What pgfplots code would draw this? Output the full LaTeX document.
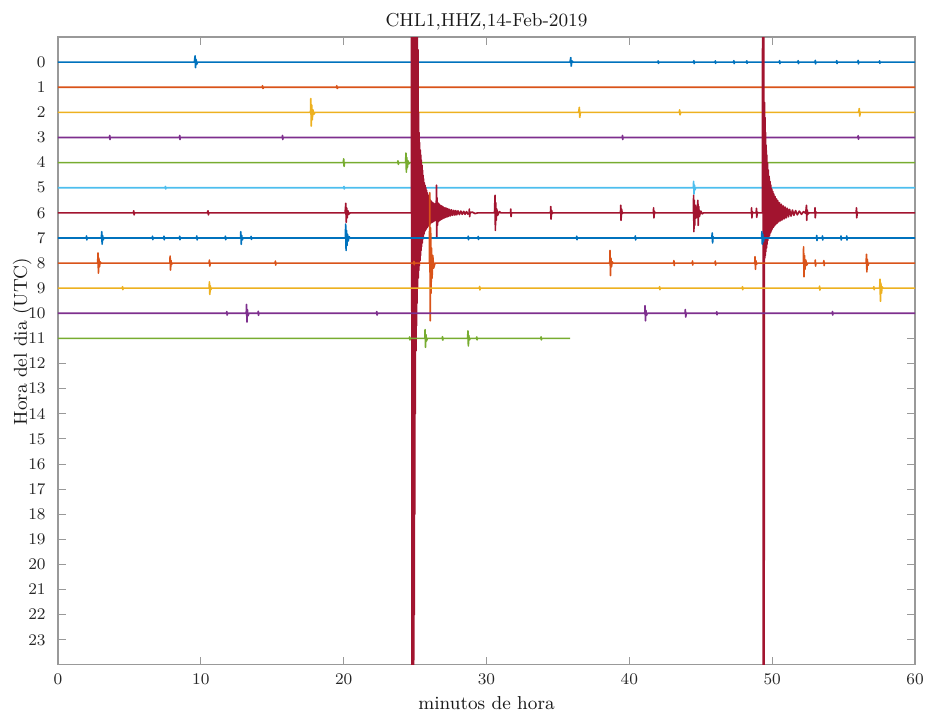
\documentclass[border=0pt]{standalone}
\usepackage{pgfplots}
\pgfplotsset{compat=1.18}
\usetikzlibrary{calc}
\definecolor{m1}{rgb}{0,0.447,0.741}
\definecolor{m2}{rgb}{0.85,0.325,0.098}
\definecolor{m3}{rgb}{0.929,0.694,0.125}
\definecolor{m4}{rgb}{0.494,0.184,0.556}
\definecolor{m5}{rgb}{0.466,0.674,0.188}
\definecolor{m6}{rgb}{0.301,0.745,0.933}
\definecolor{m7}{rgb}{0.635,0.078,0.184}
\begin{document}
\begin{tikzpicture}
\begin{axis}[
    width=14.824cm, height=10.862cm, scale only axis,
    xmin=0, xmax=60, ymin=-1, ymax=24, y dir=reverse,
    xtick={0,10,...,60}, ytick={0,1,...,23},
    tick align=inside, major tick length=0.138cm,
    axis line style={draw=black!40, line width=0.5pt},
    every tick/.style={draw=black!40, line width=0.5pt},
    tick label style={font=\fontsize{8.4}{10}\selectfont, text=black!85},
    yticklabel style={xshift=-0.09cm},
    xticklabel style={yshift=-0.04cm},
    title={CHL1,HHZ,14-Feb-2019},
    every axis title shift=0pt,
    title style={at={(axis description cs:0.5,1.0167)}, anchor=base, font=\fontsize{9.2}{11}\selectfont, text=black!90},
    xlabel={minutos de hora},
    xlabel style={at={(axis description cs:0.5,-0.071)}, anchor=base, font=\fontsize{9.2}{11}\selectfont, text=black!90},
    ylabel={Hora del dia (UTC)},
    ylabel style={at={(axis description cs:-0.0362,0.515)}, anchor=base, rotate=0, font=\fontsize{9.2}{11}\selectfont, text=black!90},
    every axis plot/.append style={line width=0.8pt, line join=round},
]
\coordinate (sw) at (axis description cs:0,0);
\coordinate (ne) at (axis description cs:1,1);
% hour 0
\addplot[m1] coordinates {
  (0,0)(9.55,0)(9.6,-0.25)(9.63,0.22)(9.67,-0.1)(9.72,0.08)(9.78,0)
  (35.85,0)(35.9,-0.18)(35.93,0.16)(35.98,-0.05)(36.05,0)
  (42,0)(42.02,-0.05)(42.04,0.05)(42.06,0)(44.5,0)(44.52,-0.06)(44.54,0.06)(44.56,0)
  (46,0)(46.02,-0.05)(46.04,0.05)(46.06,0)(47.3,0)(47.32,-0.06)(47.34,0.06)(47.36,0)
  (48.2,0)(48.22,-0.05)(48.24,0.05)(48.26,0)(50.5,0)(50.52,-0.06)(50.54,0.06)(50.56,0)
  (51.8,0)(51.82,-0.06)(51.84,0.06)(51.86,0)(53,0)(53.02,-0.07)(53.04,0.07)(53.06,0)
  (54.5,0)(54.52,-0.06)(54.54,0.06)(54.56,0)(56,0)(56.02,-0.07)(56.04,0.07)(56.06,0)
  (57.5,0)(57.52,-0.05)(57.54,0.05)(57.56,0)(60,0)
};
% hour 1
\addplot[m2] coordinates {
  (0,1)(14.3,1)(14.32,0.94)(14.35,1.05)(14.4,1)(19.5,1)(19.52,0.94)(19.55,1.05)(19.6,1)(60,1)
};
% hour 2
\addplot[m3] coordinates {
  (0,2)(17.68,2)(17.7,1.45)(17.73,2.55)(17.76,1.7)(17.8,2.3)(17.85,1.9)(17.9,2.08)(18.0,2)
  (36.45,2)(36.5,1.8)(36.53,2.2)(36.57,2)(43.5,2)(43.52,1.9)(43.55,2.1)(43.6,2)
  (56.05,2)(56.1,1.85)(56.13,2.15)(56.17,2)(60,2)
};
% hour 3
\addplot[m4] coordinates {
  (0,3)(3.6,3)(3.62,2.92)(3.64,3.08)(3.66,3)(8.5,3)(8.52,2.92)(8.54,3.08)(8.56,3)
  (15.7,3)(15.72,2.92)(15.74,3.08)(15.76,3)(39.5,3)(39.52,2.92)(39.54,3.08)(39.56,3)
  (56,3)(56.02,2.93)(56.04,3.07)(56.06,3)(60,3)
};
% hour 4
\addplot[m5] coordinates {
  (0,4)(19.98,4)(20.0,3.85)(20.03,4.15)(20.06,4)(23.78,4)(23.8,3.93)(23.83,4.07)(23.86,4)
  (24.34,4)(24.36,3.62)(24.39,4.38)(24.42,3.8)(24.46,4.2)(24.5,3.93)(24.56,4.05)(24.62,4)
  (25.1,4)(25.12,3.94)(25.14,4.06)(25.17,4)(60,4)
};
% hour 5
\addplot[m6] coordinates {
  (0,5)(7.5,5)(7.52,4.95)(7.54,5.05)(7.56,5)(20,5)(20.02,4.95)(20.04,5.05)(20.06,5)
  (44.48,5)(44.5,4.75)(44.53,5.25)(44.56,4.9)(44.6,5.08)(44.65,5)(60,5)
};
% hour 6
\addplot[m7] coordinates {
  (0,6)(5.28,6)(5.3,5.92)(5.33,6.08)(5.36,6)(10.45,6)(10.5,5.92)(10.53,6.08)(10.56,6)
  (20.1,6)(20.15,5.62)(20.18,6.38)(20.21,5.8)(20.25,6.2)(20.3,5.92)(20.36,6.05)(20.45,6)
  (24.74,6)
  (24.76,-34)(24.78,46)(24.80,-34)(24.82,46)(24.84,-34)(24.86,46)(24.88,-30)(24.90,30)(24.92,-26)(24.94,22)
  (24.96,-10)(24.98,18)(25.00,-7)(25.02,14)(25.04,-5)(25.06,11.5)(25.08,-3)(25.10,10.5)(25.12,-2)(25.14,9.6)
  (25.16,-1.5)(25.18,9)(25.20,-0.5)(25.22,8.6)(25.24,2)(25.26,8.3)(25.28,2.8)(25.30,8.1)(25.32,3.2)(25.34,7.9)
  (25.36,3.5)(25.38,7.7)(25.40,3.7)(25.42,7.5)(25.44,3.9)(25.46,7.35)(25.48,4.1)(25.50,7.2)(25.52,4.3)(25.54,7.05)
  (25.56,4.5)(25.58,6.95)(25.60,4.65)(25.62,6.85)(25.65,4.8)(25.67,6.75)(25.70,4.9)(25.72,6.7)(25.75,5.0)(25.77,6.65)
  (25.80,5.1)(25.83,6.6)(25.86,5.2)(25.89,6.55)(25.92,5.3)(25.96,6.5)(26.00,5.4)(26.04,6.45)(26.08,5.5)(26.12,6.4)
  (26.16,5.55)(26.20,6.38)(26.24,5.6)(26.28,6.35)(26.32,5.62)(26.36,6.32)(26.40,5.65)(26.44,6.3)(26.48,5.8)
  (26.50,4.9)(26.52,7.0)(26.54,5.4)(26.57,6.5)(26.60,5.6)(26.64,6.35)(26.68,5.65)(26.72,6.3)(26.76,5.7)(26.80,6.28)
  (26.84,5.72)(26.88,6.25)(26.92,5.75)(26.96,6.22)(27.00,5.78)(27.05,6.2)(27.10,5.8)(27.15,6.18)(27.20,5.82)(27.25,6.16)
  (27.30,5.84)(27.35,6.14)(27.40,5.86)(27.47,6.12)(27.55,5.88)(27.62,6.1)(27.70,5.9)(27.78,6.09)(27.85,5.91)(27.92,6.08)
  (28.0,5.92)(28.1,6.07)(28.2,5.93)(28.3,6.06)(28.4,5.94)(28.5,6.06)(28.6,5.95)(28.7,6.05)(28.78,6)(28.8,5.85)(28.82,6.15)
  (28.85,6)(29.0,5.97)(29.2,6.03)(29.4,6)
  (30.56,6)(30.6,5.3)(30.62,6.7)(30.65,5.6)(30.68,6.3)(30.72,5.85)(30.78,6.1)(30.9,5.95)(31.0,6)
  (31.68,6)(31.7,5.85)(31.72,6.15)(31.75,6)
  (34.48,6)(34.5,5.75)(34.52,6.25)(34.56,5.9)(34.6,6.03)(34.65,6)
  (39.38,6)(39.4,5.7)(39.42,6.3)(39.46,5.85)(39.5,6.03)(39.55,6)
  (41.68,6)(41.7,5.8)(41.72,6.2)(41.76,5.95)(41.8,6)
  (44.48,6)(44.5,5.3)(44.52,6.75)(44.55,5.5)(44.58,6.5)(44.62,5.7)(44.7,6.2)
  (44.8,5.5)(44.82,6.5)(44.86,5.75)(44.9,6.15)(45.0,5.93)(45.1,6.04)(45.2,6)
  (48.54,6)(48.56,5.8)(48.58,6.2)(48.62,5.96)(48.66,6)(48.88,6)(48.9,5.82)(48.92,6.18)(48.96,5.97)(49.0,6)(49.32,6)
  (49.36,-30)(49.38,40)(49.40,-30)(49.42,40)
  (49.46,1.6)(49.48,7.8)(49.50,2.2)(49.52,7.7)(49.54,2.8)(49.56,7.55)(49.58,3.3)(49.60,7.4)(49.62,3.7)(49.64,7.25)
  (49.67,4.0)(49.70,7.1)(49.73,4.3)(49.76,7.0)(49.79,4.55)(49.82,6.9)(49.85,4.75)(49.88,6.8)(49.91,4.9)(49.94,6.72)
  (49.97,5.05)(50.00,6.65)(50.04,5.15)(50.08,6.58)(50.12,5.25)(50.16,6.52)(50.20,5.35)(50.25,6.46)(50.30,5.45)(50.35,6.41)
  (50.40,5.52)(50.46,6.36)(50.52,5.6)(50.58,6.32)(50.64,5.66)(50.70,6.28)(50.77,5.72)(50.84,6.24)(50.91,5.77)(50.98,6.2)
  (51.06,5.82)(51.14,6.16)(51.22,5.86)(51.32,6.13)(51.42,5.89)(51.52,6.1)(51.64,5.91)(51.76,6.08)(51.9,5.93)(52.05,6.06)
  (52.2,5.95)(52.35,6.02)(52.4,5.7)(52.42,6.3)(52.45,5.88)(52.5,6.05)(52.6,6)(52.98,6)(53.0,5.8)(53.02,6.2)(53.05,5.96)
  (53.1,6)(55.88,6)(55.9,5.8)(55.92,6.2)(55.96,5.97)(56.0,6)(60,6)
};
% hour 7
\addplot[m1] coordinates {
  (0,7)(1.98,7)(2.0,6.92)(2.02,7.08)(2.04,7)(3.04,7)(3.06,6.75)(3.09,7.25)(3.12,6.9)(3.16,7.08)(3.22,7)
  (6.6,7)(6.62,6.93)(6.64,7.07)(6.66,7)(7.4,7)(7.42,6.93)(7.44,7.07)(7.46,7)(8.5,7)(8.52,6.93)(8.54,7.07)(8.56,7)
  (9.7,7)(9.72,6.92)(9.74,7.08)(9.76,7)(11.7,7)(11.72,6.93)(11.74,7.07)(11.76,7)
  (12.78,7)(12.8,6.75)(12.83,7.25)(12.86,6.9)(12.9,7.08)(12.96,7)(13.5,7)(13.52,6.94)(13.54,7.06)(13.56,7)
  (20.12,7)(20.14,6.45)(20.17,7.5)(20.2,6.7)(20.23,7.3)(20.27,6.85)(20.32,7.12)(20.38,6.95)(20.45,7)
  (28.7,7)(28.72,6.93)(28.74,7.07)(28.76,7)(29.4,7)(29.42,6.94)(29.44,7.06)(29.46,7)
  (36.3,7)(36.32,6.93)(36.34,7.07)(36.36,7)(40.4,7)(40.42,6.92)(40.44,7.08)(40.46,7)
  (45.78,7)(45.8,6.8)(45.83,7.2)(45.86,6.95)(45.9,7)(49.26,7)(49.28,6.75)(49.31,7.25)(49.34,6.85)(49.38,7.15)(49.44,7)
  (53.1,7)(53.12,6.9)(53.14,7.1)(53.16,7)(53.5,7)(53.52,6.92)(53.54,7.08)(53.56,7)
  (54.8,7)(54.82,6.92)(54.84,7.08)(54.86,7)(55.2,7)(55.22,6.92)(55.24,7.08)(55.26,7)(60,7)
};
% hour 8
\addplot[m2] coordinates {
  (0,8)(2.78,8)(2.8,7.6)(2.83,8.4)(2.86,7.8)(2.9,8.15)(2.95,7.95)(3.0,8)
  (7.83,8)(7.85,7.72)(7.88,8.28)(7.91,7.9)(7.95,8.06)(8.0,8)(10.58,8)(10.6,7.88)(10.63,8.12)(10.66,8)
  (15.2,8)(15.22,7.92)(15.24,8.08)(15.26,8)(24.9,8)(24.92,7.93)(24.94,8.07)(24.96,8)
  (26.0,8)(26.03,5.2)(26.06,10.3)(26.09,6.6)(26.12,9.2)(26.15,7.4)(26.19,8.6)(26.24,7.7)(26.3,8.2)(26.4,8)
  (38.63,8)(38.65,7.5)(38.68,8.5)(38.71,7.8)(38.75,8.15)(38.8,7.95)(38.86,8)
  (43.1,8)(43.12,7.9)(43.14,8.1)(43.16,8)(44.4,8)(44.42,7.92)(44.44,8.08)(44.46,8)(46,8)(46.02,7.92)(46.04,8.08)(46.06,8)
  (48.78,8)(48.8,7.75)(48.83,8.25)(48.86,7.9)(48.9,8.05)(48.95,8)
  (52.18,8)(52.2,7.35)(52.23,8.55)(52.26,7.7)(52.3,8.25)(52.35,7.88)(52.42,8.08)(52.5,8)
  (53.0,8)(53.02,7.88)(53.04,8.12)(53.06,8)(53.6,8)(53.62,7.9)(53.64,8.1)(53.66,8)
  (56.58,8)(56.6,7.65)(56.63,8.35)(56.66,7.85)(56.7,8.1)(56.76,8)(60,8)
};
% hour 9
\addplot[m3] coordinates {
  (0,9)(4.5,9)(4.52,8.94)(4.54,9.06)(4.56,9)(10.58,9)(10.6,8.75)(10.63,9.25)(10.66,8.9)(10.7,9.06)(10.75,9)
  (29.5,9)(29.52,8.93)(29.54,9.07)(29.56,9)(42.1,9)(42.12,8.94)(42.14,9.06)(42.16,9)
  (47.9,9)(47.92,8.94)(47.94,9.06)(47.96,9)(53.3,9)(53.32,8.92)(53.34,9.08)(53.36,9)
  (57.1,9)(57.12,8.94)(57.14,9.06)(57.16,9)(57.53,9)(57.55,8.64)(57.58,9.52)(57.61,8.8)(57.65,9.2)(57.7,8.95)(57.76,9)(60,9)
};
% hour 10
\addplot[m4] coordinates {
  (0,10)(11.8,10)(11.82,9.93)(11.84,10.07)(11.86,10)(13.18,10)(13.2,9.65)(13.23,10.35)(13.26,9.85)(13.3,10.1)(13.36,10)
  (14.0,10)(14.02,9.92)(14.04,10.08)(14.06,10)(22.3,10)(22.32,9.93)(22.34,10.07)(22.36,10)
  (41.08,10)(41.1,9.7)(41.13,10.3)(41.16,9.88)(41.2,10.08)(41.26,10)(43.9,10)(43.92,9.85)(43.95,10.15)(43.98,10)
  (46.1,10)(46.12,9.94)(46.14,10.06)(46.16,10)(54.2,10)(54.22,9.93)(54.24,10.07)(54.26,10)(60,10)
};
% hour 11
\addplot[m5] coordinates {
  (0,11)(24.6,11)(24.62,10.94)(24.64,11.06)(24.66,11)(25.68,11)(25.7,10.65)(25.73,11.35)(25.76,10.85)(25.8,11.1)(25.86,11)
  (26.9,11)(26.92,10.93)(26.94,11.07)(26.96,11)(28.68,11)(28.7,10.7)(28.73,11.3)(28.76,10.88)(28.8,11.06)(28.86,11)
  (29.3,11)(29.32,10.94)(29.34,11.06)(29.36,11)(33.8,11)(33.82,10.94)(33.84,11.06)(33.86,11)(35.85,11)
};
\end{axis}
\pgfresetboundingbox
\path[use as bounding box] (sw) ++(-1.0032cm,-0.7957cm) rectangle ($(ne)+(0.173cm,0.640cm)$);
\end{tikzpicture}
\end{document}
